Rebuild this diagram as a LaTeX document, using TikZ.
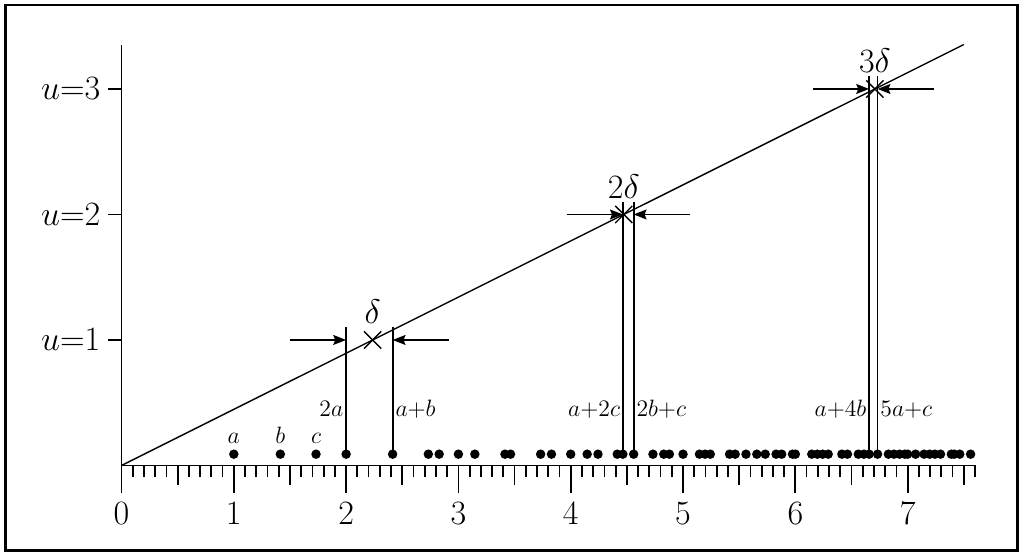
\documentclass[tikz,border=0pt]{standalone}
\usepackage{amsmath}
\usepackage{amssymb}
\usepackage{xcolor}
\usepackage{tikz}
\usetikzlibrary{arrows.meta,calc,shapes.misc}

\begin{document}
\begin{tikzpicture}[x=2cm,y=2.235cm,line width=0.9pt,
            big/.style={font=\LARGE},
            small/.style={font=\large,inner sep=1pt},
            xmark/.style={cross out,draw,line width=0.7pt,minimum size=8pt,inner sep=0pt}]
            \useasboundingbox (-1.082,-0.737) rectangle (8.036,3.709);
            \draw[line width=1.5pt] (-1.037,-0.681) rectangle (7.974,3.669);
            \coordinate (O) at (0,0);
            \coordinate (XE) at (7.6,0);
            \coordinate (YE) at (0,3.35);
            \coordinate (LE) at (7.5,{7.5/sqrt(5)});
            \draw (O) -- (XE);
            \draw (O) -- (YE);
            \draw[line width=0.7pt] (O) -- (LE);
            % ticks on the axis
            \foreach \i in {1,...,76} {
                \draw (\i/10,0) -- ++(0,-5.6pt);
            }
            \foreach \t in {0.5,1.5,...,7.5} {
                \draw (\t,0) -- ++(0,-10pt);
            }
            \foreach \t in {0,...,7} {
                \draw (\t,0) -- ++(0,-14pt) node[below=1pt,big] (n\t) {$\t$};
            }
            \foreach \lv in {1,2,3} {
                \draw (0,\lv) -- ++(-7pt,0) node[left,big] (u\lv) {$u{=}\lv$};
            }
            % the points n a + m b + k c
            \foreach \n in {0,...,7} {
                \foreach \m in {0,...,5} {
                    \foreach \k in {0,...,4} {
                        \pgfmathsetmacro\v{\n+\m*sqrt(2)+\k*sqrt(3)}
                        \ifdim\v pt>0.5pt \ifdim\v pt<7.61pt
                            \fill (\v,0.09) circle[radius=2.4pt];
                        \fi\fi
                    }
                }
            }
            \coordinate (a) at (1,0.09);
            \coordinate (b) at ({sqrt(2)},0.09);
            \coordinate (c) at ({sqrt(3)},0.09);
            \node[small,above=4pt] (la) at (a) {$a$};
            \node[small,above=4pt] (lb) at (b) {$b$};
            \node[small,above=4pt] (lc) at (c) {$c$};
            % the three levels
            \foreach \lv/\xl/\xr/\nl/\nr/\dl in {1/2/2.41421/2a/a{+}b/\delta,
                    2/4.46410/4.56048/a{+}2c/2b{+}c/2\delta,
                    3/6.65685/6.73205/a{+}4b/5a{+}c/3\delta} {
                \coordinate (L\lv) at (\xl,0.09);
                \coordinate (R\lv) at (\xr,0.09);
                \coordinate (LT\lv) at (\xl,\lv+0.1);
                \coordinate (RT\lv) at (\xr,\lv+0.1);
                \coordinate (LH\lv) at (\xl,\lv);
                \coordinate (RH\lv) at (\xr,\lv);
                \coordinate (LA\lv) at (\xl-0.5,\lv);
                \coordinate (RA\lv) at (\xr+0.5,\lv);
                \draw (L\lv) -- (LT\lv);
                \draw (R\lv) -- (RT\lv);
                \begin{scope}[->,>={Stealth[length=6.5pt,width=5pt,inset=1pt]}]
                    \draw (LA\lv) -- (LH\lv);
                    \draw (RA\lv) -- (RH\lv);
                \end{scope}
                \node[xmark] (X\lv) at ({sqrt(5)*\lv},\lv) {};
                \node[big,above=0pt] (D\lv) at (X\lv.north) {$\dl$};
                \node[small,anchor=base east] (NL\lv) at (\xl,0.39) {$\nl$};
                \node[small,anchor=base west] (NR\lv) at (\xr,0.39) {$\nr$};
            }
        \end{tikzpicture}
\end{document}
